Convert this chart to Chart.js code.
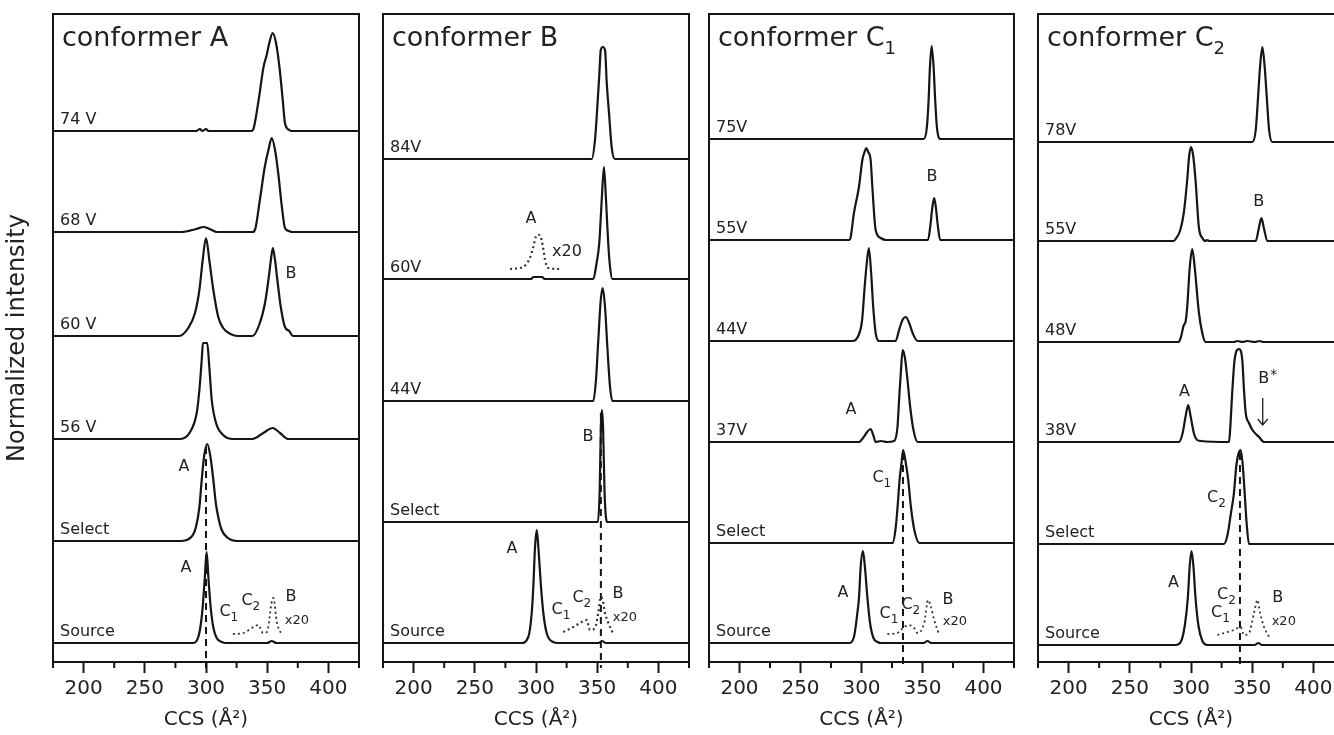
<!DOCTYPE html>
<html>
<head>
  <meta charset="utf-8" />
  <title>CCS stacks</title>
  <script src="https://cdn.jsdelivr.net/npm/chart.js"></script>
  <style>
    body { margin: 0; width: 1334px; height: 735px; overflow: hidden; background: #fff; position: relative; }
    canvas { position: absolute; top: 0; }
  </style>
</head>
<body>
  <canvas id="panelA" width="369" height="735" style="left:0"></canvas>
  <canvas id="panelB" width="326" height="735" style="left:373px"></canvas>
  <canvas id="panelC1" width="325" height="735" style="left:699px"></canvas>
  <canvas id="panelC2" width="326" height="735" style="left:1028px"></canvas>

  <script>
  // x axis
  const ccsMin = 175, ccsMax = 425;
  const ccsTicks = [200, 250, 300, 350, 400];

  // conformer A: traces as [CCS, intensity] pairs, stacked by offsetsA
  const namesA = ['74 V', '68 V', '60 V', '56 V', 'Select', 'Source'];
  const offsetsA = [5.31, 4.30, 3.26, 2.23, 1.21, 0.19];
  const a74 = [[175,0],[292,0],[295,0.02],[297,0],[300,0.02],[302,0],[337,0],[339,0.03],[343,0.31],[347,0.64],[349.6,0.76],[351.7,0.88],[354.5,0.98],[357.2,0.88],[360,0.64],[362.7,0.31],[364.5,0.08],[368,0.01],[370,0],[425,0]];
  const a68 = [[175,0],[280,0],[292,0.03],[298,0.05],[303,0.03],[309,0],[338,0],[340,0.02],[344,0.32],[348,0.65],[351,0.82],[353.7,0.94],[356.4,0.82],[359,0.59],[362,0.25],[364.5,0.04],[368,0.01],[370,0],[425,0]];
  const a60 = [[175,0],[278,0],[285.5,0.08],[291,0.23],[294.6,0.46],[297.3,0.76],[300,0.98],[302.7,0.76],[306,0.46],[310,0.19],[314,0.08],[320,0.02],[326,0],[338,0],[344,0.13],[348.2,0.33],[351,0.56],[353,0.76],[354.6,0.88],[356.4,0.76],[358.3,0.56],[361.1,0.29],[364.5,0.09],[368,0.05],[371,0],[425,0]];
  const a56 = [[175,0],[279,0],[287,0.07],[292.4,0.26],[294.6,0.49],[296.5,0.79],[297.5,0.96],[301,0.96],[302.7,0.72],[304.7,0.39],[308.2,0.16],[314,0.04],[322,0],[338,0],[346.8,0.06],[354.5,0.11],[360.5,0.06],[367,0],[425,0]];
  const aSelect = [[175,0],[279,0],[288,0.04],[291.8,0.14],[294.6,0.34],[296.5,0.61],[298.6,0.86],[301,0.97],[303.4,0.86],[306,0.61],[308,0.38],[310,0.24],[312.8,0.11],[318,0.03],[325,0],[425,0]];
  const aSource = [[175,0],[289,0],[293.7,0.06],[295.9,0.2],[297.3,0.36],[298.9,0.63],[300.5,0.91],[302.1,0.63],[303.8,0.36],[305.9,0.16],[308.7,0.05],[313,0.01],[316,0],[350,0],[353.7,0.02],[357.5,0],[425,0]];
  const aSourceX20 = [[322,0.09],[330.6,0.1],[338.7,0.16],[342.8,0.18],[346.6,0.1],[349.8,0.11],[354,0.43],[355,0.45],[358,0.2],[362,0.08]];

  // conformer B
  const namesB = ['84V', '60V', '44V', 'Select', 'Source'];
  const offsetsB = [5.03, 3.83, 2.61, 1.40, 0.19];
  const b84 = [[175,0],[345.5,0],[348.2,0.19],[350.1,0.52],[351.8,0.86],[352.9,1.09],[354.5,1.12],[356.4,1.09],[357.8,0.76],[359.9,0.42],[361.8,0.12],[364.5,0],[425,0]];
  const b60 = [[175,0],[296,0],[298,0.02],[305,0.02],[307,0],[346.8,0],[349.5,0.16],[351.7,0.36],[353.7,0.79],[355.5,1.12],[357.2,0.79],[359,0.36],[360.5,0.12],[362.4,0],[425,0]];
  const b60X20 = [[278.8,0.1],[289.4,0.12],[295,0.21],[297.5,0.31],[300.8,0.44],[303,0.44],[305.7,0.32],[307.4,0.19],[310,0.11],[319.6,0.1]];
  const b44 = [[175,0],[346.8,0],[349,0.21],[350.9,0.61],[352.9,1.01],[354.5,1.13],[356.4,0.94],[358.3,0.54],[360.5,0.14],[362.4,0],[425,0]];
  const bSelect = [[175,0],[350.5,0],[352,0.3],[353,0.95],[353.8,1.12],[354.8,0.95],[356,0.3],[358,0],[425,0]];
  const bSource = [[175,0],[288,0],[293.7,0.06],[296.5,0.3],[297.8,0.56],[299.2,0.96],[300.6,1.13],[301.9,0.96],[304.1,0.56],[306,0.3],[308.7,0.1],[314,0.01],[318,0],[351,0],[354,0.02],[357,0],[425,0]];
  const bSourceX20 = [[322.3,0.11],[330.5,0.16],[337.3,0.21],[341.4,0.23],[344.1,0.13],[348.2,0.15],[350.9,0.3],[352.9,0.46],[354.5,0.43],[356.4,0.3],[359.1,0.2],[362.7,0.1]];

  // conformer C1
  const namesC1 = ['75V', '55V', '44V', '37V', 'Select', 'Source'];
  const offsetsC1 = [5.23, 4.22, 3.21, 2.20, 1.19, 0.19];
  const c75 = [[175,0],[351,0],[353.6,0.12],[355,0.39],[356.1,0.72],[357.5,0.93],[359.1,0.72],[360.4,0.39],[361.8,0.12],[364.6,0],[425,0]];
  const c55 = [[175,0],[290,0],[291,0.02],[293.8,0.27],[297.9,0.53],[300.7,0.8],[302.5,0.88],[304,0.92],[305.5,0.88],[307.5,0.8],[308.9,0.53],[311.6,0.1],[315.7,0.02],[320,0],[354.5,0],[356.5,0.15],[358,0.32],[359.6,0.42],[361,0.32],[362.5,0.15],[364.5,0],[425,0]];
  const c44 = [[175,0],[292.3,0],[297.7,0.06],[300.5,0.21],[302.4,0.51],[304,0.74],[306,0.93],[307.9,0.68],[309.6,0.34],[311.6,0.08],[314.3,0],[328,0],[330.8,0.11],[333.6,0.21],[336.3,0.24],[339.1,0.18],[341.9,0.08],[346,0],[425,0]];
  const c37 = [[175,0],[297.7,0],[301.8,0.05],[304.6,0.1],[307.5,0.13],[309.6,0.07],[311.6,0],[315.7,0.01],[321,0],[326.7,0.01],[329.5,0.15],[330.8,0.42],[332.2,0.69],[333.8,0.92],[335.5,0.85],[337.7,0.62],[339.9,0.35],[342.6,0.12],[346,0],[425,0]];
  const cSelect = [[175,0],[325.4,0],[328.1,0.16],[330,0.43],[331.2,0.63],[332.8,0.8],[334.1,0.93],[336.3,0.8],[338.3,0.63],[340.5,0.36],[343.3,0.13],[347.4,0],[425,0]];
  const cSource = [[175,0],[289.7,0],[293.8,0.06],[296.6,0.3],[298,0.46],[299.3,0.76],[301.2,0.92],[302.8,0.76],[304.8,0.46],[307,0.2],[309.8,0.05],[313.1,0.01],[316,0],[351,0],[354,0.02],[357,0],[425,0]];
  const cSourceX20 = [[321.2,0.09],[329.4,0.1],[334.9,0.16],[339,0.18],[343.1,0.15],[345.9,0.1],[351.4,0.2],[354.6,0.43],[356.9,0.36],[359.6,0.23],[363.7,0.08]];

  // conformer C2
  const namesC2 = ['78V', '55V', '48V', '38V', 'Select', 'Source'];
  const offsetsC2 = [5.20, 4.21, 3.20, 2.20, 1.18, 0.17];
  const d78 = [[175,0],[350.1,0],[352.9,0.12],[354.8,0.45],[356.4,0.75],[358.3,0.95],[360.2,0.75],[361.9,0.45],[363.8,0.12],[366.5,0],[425,0]];
  const d55 = [[175,0],[285.9,0],[288,0.03],[291,0.1],[294.1,0.28],[296.9,0.61],[298.5,0.85],[300.1,0.94],[301.8,0.85],[303.7,0.61],[306.4,0.14],[309.2,0.03],[312,0],[313,0.01],[315,0],[352.9,0],[355.3,0.12],[357.5,0.23],[359.7,0.12],[362.4,0],[425,0]];
  const d48 = [[175,0],[290,0],[292,0.06],[294.1,0.17],[295.5,0.2],[296.9,0.35],[299,0.75],[301,0.93],[303,0.75],[306.4,0.3],[309.2,0.09],[311.9,0],[335,0],[338,0.01],[342,0],[346,0.01],[352,0],[356,0.01],[359,0],[425,0]];
  const d38 = [[175,0],[290,0],[293,0.08],[295.5,0.25],[297.7,0.37],[299.8,0.25],[302.5,0.08],[305,0.02],[308,0.01],[331,0],[331.8,0.09],[333.8,0.52],[335.6,0.82],[339.2,0.93],[341.9,0.82],[343.3,0.52],[344.7,0.29],[347.4,0.19],[350.2,0.12],[355.6,0.05],[359.7,0],[425,0]];
  const dSelect = [[175,0],[326.9,0],[330,0.1],[332.5,0.3],[335,0.5],[337,0.78],[338.7,0.9],[340.6,0.94],[342.2,0.8],[343.9,0.5],[345.5,0.2],[347.4,0],[425,0]];
  const dSource = [[175,0],[287.3,0],[292,0.04],[295,0.2],[297.4,0.47],[299,0.8],[300.4,0.94],[301.9,0.8],[303.7,0.47],[306,0.2],[309,0.05],[313.3,0],[352,0],[355,0.02],[358,0],[425,0]];
  const dSourceX20 = [[321.5,0.1],[329.7,0.13],[335.1,0.15],[340.6,0.18],[343.3,0.1],[347.4,0.12],[351.5,0.32],[354.3,0.45],[356.4,0.32],[359.7,0.18],[363.8,0.08]];

  // reference CCS (dashed line): [CCS, top intensity]
  const refA = [300, 2.15], refB = [353, 2.49], refC1 = [334, 2.09], refC2 = [340, 2.09];

  const INK = '#151515';
  const TEXT = '#222';
  const FONT = "'DejaVu Sans', sans-serif";
  Chart.defaults.font.family = FONT;
  Chart.defaults.color = TEXT;

  function rich(ctx, n, px, py) {
    const size = n.size || 16;
    ctx.font = size + 'px ' + FONT;
    const w = ctx.measureText(n.t).width;
    ctx.textBaseline = 'middle';
    ctx.textAlign = 'left';
    const x0 = px - w / 2;
    ctx.fillText(n.t, x0, py);
    if (n.sub) {
      ctx.font = Math.round(size * 0.75) + 'px ' + FONT;
      ctx.fillText(n.sub, x0 + w, py + size * 0.38);
    }
    if (n.sup) {
      ctx.font = Math.round(size * 0.9) + 'px ' + FONT;
      ctx.fillText(n.sup, x0 + w + 1, py - size * 0.25);
    }
  }

  const decor = {
    id: 'decor',
    afterDraw(chart, args, o) {
      const { ctx, chartArea: ca, scales: { x, y } } = chart;
      ctx.save();
      // frame
      ctx.strokeStyle = INK;
      ctx.lineWidth = 2;
      ctx.strokeRect(ca.left, ca.top, ca.right - ca.left, ca.bottom - ca.top);
      // minor ticks
      x.ticks.forEach(t => {
        if (t.value % 50 === 0) return;
        const px = x.getPixelForValue(t.value);
        ctx.beginPath();
        ctx.moveTo(px, ca.bottom);
        ctx.lineTo(px, ca.bottom + 6);
        ctx.stroke();
      });
      ctx.fillStyle = TEXT;
      // panel title
      ctx.font = '27px ' + FONT;
      ctx.textAlign = 'left';
      ctx.textBaseline = 'alphabetic';
      ctx.fillText(o.title, ca.left + 9, 46);
      if (o.titleSub) {
        const w = ctx.measureText(o.title).width;
        ctx.font = '18px ' + FONT;
        ctx.fillText(o.titleSub, ca.left + 9 + w, 54);
      }
      // trace names
      ctx.font = '16px ' + FONT;
      o.names.forEach((nm, i) => {
        ctx.fillText(nm, ca.left + 7, y.getPixelForValue(o.offsets[i]) - 7);
      });
      // peak notes
      o.notes.forEach(n => rich(ctx, n, x.getPixelForValue(n.x), y.getPixelForValue(n.y)));
      // arrow
      if (o.arrow) {
        const ax = x.getPixelForValue(o.arrow.x);
        const y1 = y.getPixelForValue(o.arrow.y1), y2 = y.getPixelForValue(o.arrow.y2);
        ctx.strokeStyle = TEXT;
        ctx.lineWidth = 1.3;
        ctx.beginPath();
        ctx.moveTo(ax, y1); ctx.lineTo(ax, y2);
        ctx.moveTo(ax - 5, y2 - 6); ctx.lineTo(ax, y2); ctx.lineTo(ax + 5, y2 - 6);
        ctx.stroke();
      }
      ctx.restore();
    }
  };

  function shift(trace, off) {
    return trace.map(([cx, v]) => ({ x: cx, y: v + off }));
  }

  function makePanel(id, p) {
    const datasets = p.traces.map((tr, i) => ({
      data: shift(tr, p.offsets[i]),
      borderColor: INK, borderWidth: 2.2, pointRadius: 0,
      cubicInterpolationMode: 'monotone'
    }));
    p.dots.forEach(([tr, i]) => datasets.push({
      data: shift(tr, p.offsets[i]),
      borderColor: '#333', borderWidth: p.dotWidth || 1.8, borderDash: [2, 3], pointRadius: 0,
      cubicInterpolationMode: 'monotone'
    }));
    datasets.push({
      data: [{ x: p.ref[0], y: p.ref[1] }, { x: p.ref[0], y: -0.06 }],
      borderColor: INK, borderWidth: 2, borderDash: [7, 5], pointRadius: 0, clip: false
    });

    const first = id === 'panelA';
    new Chart(document.getElementById(id), {
      type: 'line',
      data: { datasets },
      plugins: [decor],
      options: {
        responsive: false,
        animation: false,
        layout: { padding: { top: 14, left: first ? 0 : 10, right: 10, bottom: 0 } },
        plugins: {
          legend: { display: false },
          tooltip: { enabled: false },
          decor: { title: p.title, titleSub: p.titleSub, names: p.names, offsets: p.offsets, notes: p.notes, arrow: p.arrow }
        },
        scales: {
          x: {
            type: 'linear', min: ccsMin, max: ccsMax,
            afterFit: s => { s.height = 73; },
            ticks: {
              stepSize: 25, autoSkip: false, maxRotation: 0, padding: 4,
              font: { size: 20 }, color: TEXT,
              callback: v => ccsTicks.includes(v) ? String(v) : ''
            },
            grid: {
              drawOnChartArea: false, tickLength: 11, tickWidth: 2,
              tickColor: c => (c.tick && ccsTicks.includes(c.tick.value)) ? INK : 'rgba(0,0,0,0)'
            },
            border: { display: true, color: INK, width: 2 },
            title: { display: true, text: 'CCS (Å²)', font: { size: 20 }, color: TEXT, padding: { top: 0, bottom: 3 } }
          },
          y: {
            min: 0, max: 6.48,
            display: first,
            afterFit: s => { s.width = first ? 53 : 0; },
            ticks: { display: false },
            grid: { display: false },
            border: { display: false },
            title: { display: first, text: 'Normalized intensity', font: { size: 24 }, color: TEXT, padding: { top: 3, bottom: 0 } }
          }
        }
      }
    });
  }

  makePanel('panelA', {
    title: 'conformer A', names: namesA, offsets: offsetsA,
    traces: [a74, a68, a60, a56, aSelect, aSource],
    dots: [[aSourceX20, 5]], ref: refA,
    notes: [
      { t: 'B', x: 369.4, y: 3.88 }, { t: 'A', x: 282, y: 1.95 }, { t: 'A', x: 283.7, y: 0.94 },
      { t: 'C', sub: '1', x: 315.5, y: 0.5 }, { t: 'C', sub: '2', x: 333.5, y: 0.61 },
      { t: 'B', x: 369.4, y: 0.65 }, { t: 'x20', x: 374.3, y: 0.41, size: 13 }
    ]
  });

  makePanel('panelB', {
    title: 'conformer B', names: namesB, offsets: offsetsB,
    traces: [b84, b60, b44, bSelect, bSource],
    dots: [[b60X20, 1], [bSourceX20, 4]], dotWidth: 2.2, ref: refB,
    notes: [
      { t: 'A', x: 295.9, y: 4.43 }, { t: 'x20', x: 325.3, y: 4.1, size: 16 },
      { t: 'B', x: 342.5, y: 2.25 }, { t: 'A', x: 280.4, y: 1.13 },
      { t: 'C', sub: '1', x: 317.2, y: 0.52 }, { t: 'C', sub: '2', x: 334.3, y: 0.64 },
      { t: 'B', x: 367, y: 0.68 }, { t: 'x20', x: 372.7, y: 0.44, size: 13 }
    ]
  });

  makePanel('panelC1', {
    title: 'conformer C', titleSub: '1', names: namesC1, offsets: offsetsC1,
    traces: [c75, c55, c44, c37, cSelect, cSource],
    dots: [[cSourceX20, 5]], ref: refC1,
    notes: [
      { t: 'B', x: 357.8, y: 4.85 }, { t: 'A', x: 291.4, y: 2.52 },
      { t: 'C', sub: '1', x: 313.5, y: 1.84 }, { t: 'A', x: 284.8, y: 0.69 },
      { t: 'C', sub: '1', x: 319.3, y: 0.48 }, { t: 'C', sub: '2', x: 337.3, y: 0.57 },
      { t: 'B', x: 370.9, y: 0.62 }, { t: 'x20', x: 376.6, y: 0.4, size: 13 }
    ]
  });

  makePanel('panelC2', {
    title: 'conformer C', titleSub: '2', names: namesC2, offsets: offsetsC2,
    traces: [d78, d55, d48, d38, dSelect, dSource],
    dots: [[dSourceX20, 5]], ref: refC2,
    notes: [
      { t: 'B', x: 355.3, y: 4.6 }, { t: 'A', x: 294.7, y: 2.7 }, { t: 'B', sup: '*', x: 359.4, y: 2.83 },
      { t: 'C', sub: '2', x: 317.6, y: 1.64 }, { t: 'A', x: 285.7, y: 0.79 },
      { t: 'C', sub: '2', x: 325.8, y: 0.67 }, { t: 'C', sub: '1', x: 320.9, y: 0.49 },
      { t: 'B', x: 370.9, y: 0.64 }, { t: 'x20', x: 375.8, y: 0.4, size: 13 }
    ],
    arrow: { x: 358.6, y1: 2.64, y2: 2.37 }
  });
  </script>
</body>
</html>
